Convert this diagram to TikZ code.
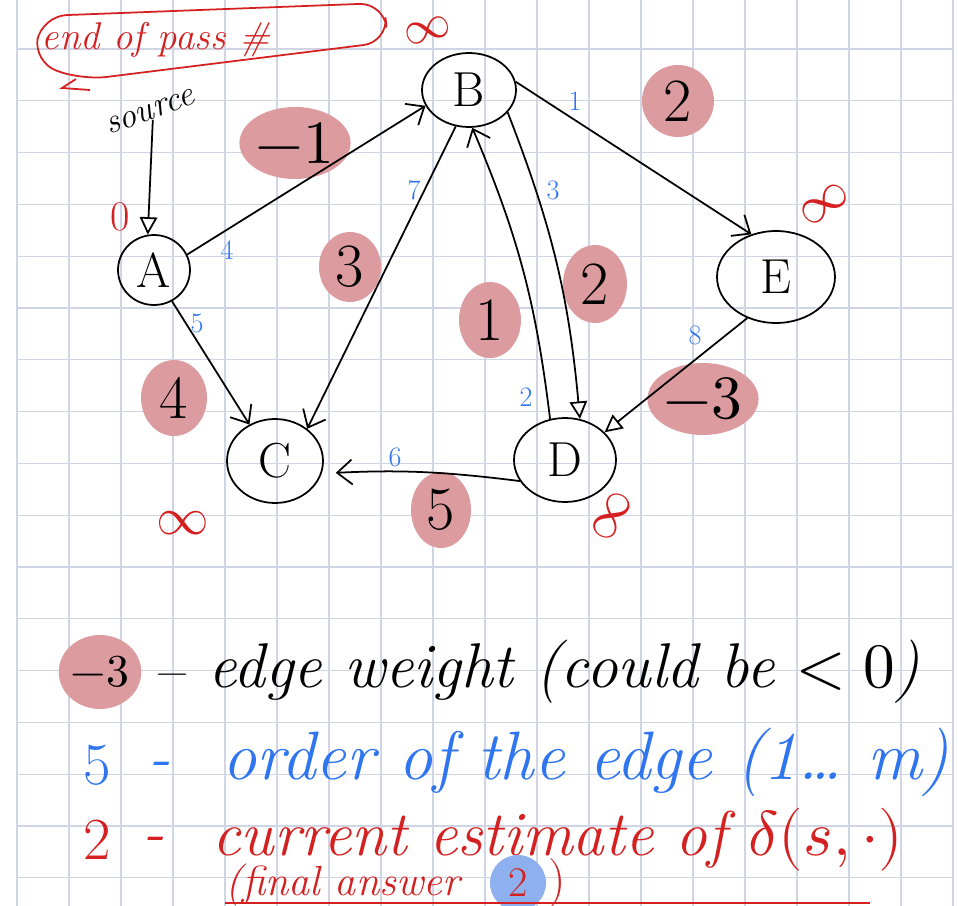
\documentclass[tikz,border=0pt]{standalone}
\usepackage{fontspec}
\usepackage{unicode-math}
\usetikzlibrary{shapes.geometric, arrows.meta}

\definecolor{blobpink}{RGB}{220,156,159}
\definecolor{blobblue}{RGB}{143,176,238}
\definecolor{penred}{RGB}{212,32,32}
\definecolor{penblue}{RGB}{47,117,240}
\definecolor{gridblue}{RGB}{208,213,230}

\tikzset{
  vertex/.style={ellipse, draw, line width=1pt, inner sep=0pt, font=\fontsize{28}{30}\selectfont},
  wblob/.style={ellipse, fill=blobpink, inner sep=0pt, font=\fontsize{35}{37}\selectfont},
  order/.style={text=penblue, inner sep=1pt, font=\fontsize{16}{18}\selectfont},
  estim/.style={text=penred, inner sep=0pt, font=\fontsize{30}{32}\selectfont},
  edge/.style={line width=1pt, -{Straight Barb[length=3mm, width=5mm]}},
  tedge/.style={line width=1pt, -{Triangle[open, length=3.5mm, width=3.5mm]}},
  gridline/.style={gridblue, line width=0.6pt},
  keytext/.style={anchor=west, inner sep=0pt, font=\itshape\fontsize{36}{38}\selectfont},
}

\begin{document}
\begin{tikzpicture}[x=0.02cm, y=-0.02cm]
  % --- end of a pass: graph with weights, edge order and estimates ---
  \useasboundingbox (0,0) rectangle (958,906);

  % Grid paper
  \foreach \i in {0,...,18}
    \draw[gridline] ({17+52*\i},0) -- ({17+52*\i},906);
  \foreach \j in {0,...,16}
    \draw[gridline] (17,{49+51.8*\j}) -- (953,{49+51.8*\j});

  % Title bubble
  \draw[penred, line width=1pt, rounded corners=14pt]
    (33,62) -- (42,16) -- (384,3) -- (388,42) -- (82,80) -- cycle;
  \draw[penred, line width=1pt] (76,79) -- (62,88) -- (90,90);
  \node[estim, font=\itshape\fontsize{22}{24}\selectfont] (title) at (156,40) {end of pass \#};

  % Vertices
  \node[vertex, minimum width=1.44cm, minimum height=1.40cm] (A) at (154,270) {A};
  \node[vertex, minimum width=1.88cm, minimum height=1.48cm] (B) at (469,90) {B};
  \node[vertex, minimum width=1.92cm, minimum height=1.68cm] (C) at (275,461) {C};
  \node[vertex, minimum width=2.04cm, minimum height=1.68cm] (D) at (565,460) {D};
  \node[vertex, minimum width=2.36cm, minimum height=1.84cm] (E) at (776,277) {E};

  % Source marker
  \node[rotate=20, inner sep=0pt, font=\itshape\fontsize{20}{22}\selectfont] (source) at (150,112) {source};
  \draw[tedge] (source.south) -- (A.100);

  % Weight blobs
  \node[wblob, minimum width=1.72cm, minimum height=1.44cm] (wAB) at (295,143) {$-1$};
  \node[wblob, minimum width=1.24cm, minimum height=1.40cm] (wBC) at (350,267) {3};
  \node[wblob, minimum width=1.32cm, minimum height=1.52cm] (wAC) at (174,398) {4};
  \node[wblob, minimum width=1.24cm, minimum height=1.52cm] (wDB) at (490,320) {1};
  \node[wblob, minimum width=1.28cm, minimum height=1.56cm] (wBD) at (595,284) {2};
  \node[wblob, minimum width=1.44cm, minimum height=1.44cm] (wBE) at (678,101) {2};
  \node[wblob, minimum width=1.52cm, minimum height=1.44cm] (wED) at (703,399) {$-3$};
  \node[wblob, minimum width=1.20cm, minimum height=1.52cm] (wDC) at (441,510) {5};

  % Edges
  \draw[edge] (A.25) -- (B.200);
  \draw[edge] (A.-60) -- (C.125);
  \draw[edge] (B.250) -- (C.45);
  \draw[edge] (D.110) to[bend right=8] (B.275);
  \draw[tedge] (B.330) to[bend left=8] (D.70);
  \draw[edge] (B.10) -- (E.120);
  \draw[tedge] (E.235) -- (D.35);
  \draw[edge, shorten >=8pt] (D.205) to[bend right=5] (C.-15);

  % Edge order
  \node[order] (oAB) at (227,250) {4};
  \node[order] (oAC) at (197,323) {5};
  \node[order] (oBC) at (414,190) {7};
  \node[order] (oBE) at (575,101) {1};
  \node[order] (oBD) at (553,190) {3};
  \node[order] (oDB) at (526,397) {2};
  \node[order] (oED) at (695,335) {8};
  \node[order] (oDC) at (395,457) {6};

  % Current estimates
  \node[estim, rotate=15, font=\fontsize{27}{29}\selectfont] (dB) at (428,30) {$\infty$};
  \node[estim, font=\fontsize{24}{26}\selectfont] (dA) at (120,217) {0};
  \node[estim, rotate=35] (dE) at (825,204) {$\infty$};
  \node[estim] (dC) at (183,523) {$\infty$};
  \node[estim, rotate=60] (dD) at (612,516) {$\infty$};

  % Key
  \node[wblob, minimum width=1.44cm, minimum height=1.48cm, font=\fontsize{26}{28}\selectfont] (key1) at (100,672) {$-3$};
  \node[keytext] (key1dash) at (152,683) {--};
  \node[keytext] (key1txt) at (208,672) {edge weight (could be $<0$)};
  \node[text=penblue, font=\fontsize{34}{36}\selectfont] (key2) at (97,765) {5};
  \node[keytext, text=penblue] (key2dash) at (148,770) {-};
  \node[keytext, text=penblue, font=\itshape\fontsize{39}{41}\selectfont] (key2txt) at (222,762) {order of the edge (1\dots\ m)};
  \node[text=penred, font=\fontsize{34}{36}\selectfont] (key3) at (97,840) {2};
  \node[keytext, text=penred] (key3dash) at (142,845) {-};
  \node[keytext, text=penred, font=\itshape\fontsize{36}{38}\selectfont] (key3txt) at (212,840) {current estimate of $\delta(s,\cdot)$};
  \node[keytext, text=penred, font=\itshape\fontsize{24}{26}\selectfont] (final) at (225,885) {(final answer};
  \node[circle, fill=blobblue, text=penred, inner sep=0pt, minimum size=1.12cm,
        font=\fontsize{24}{26}\selectfont] (finalv) at (518,883) {2};
  \node[keytext, text=penred, font=\fontsize{28}{30}\selectfont] (finalp) at (548,883) {)};
  \draw[penred, line width=1.5pt] (225,903) -- (870,903);
\end{tikzpicture}
\end{document}
